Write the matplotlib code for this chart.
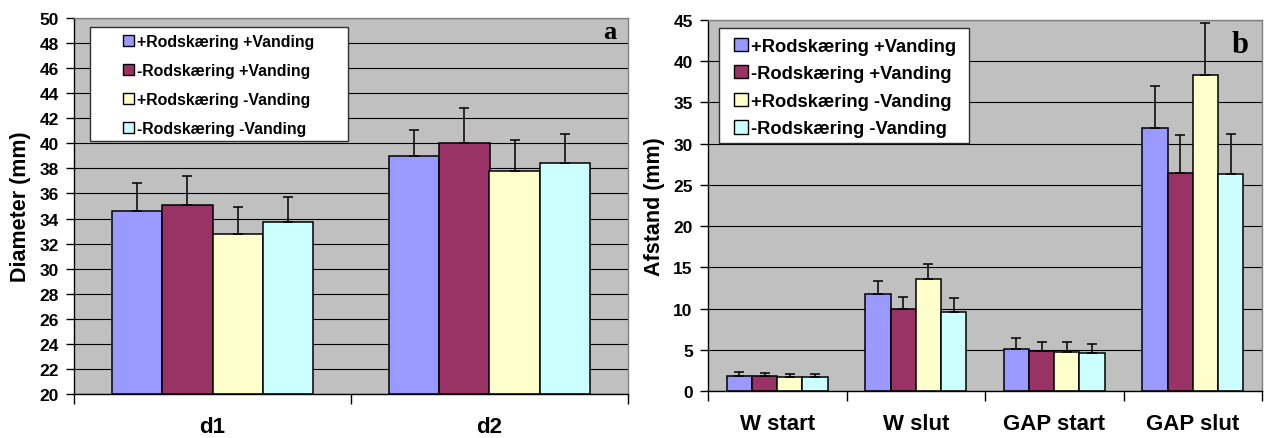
import matplotlib

matplotlib.use("Agg")

import matplotlib.pyplot as plt
import numpy as np
from matplotlib.patches import Rectangle

plt.rcParams["font.family"] = ["Liberation Sans", "DejaVu Sans"]
plt.rcParams["font.weight"] = "bold"

treatments = [
    "+Rodskæring +Vanding",
    "-Rodskæring +Vanding",
    "+Rodskæring -Vanding",
    "-Rodskæring -Vanding",
]
colors = ["#9999FF", "#993366", "#FFFFCC", "#CCFFFF"]

# panel a: stem diameter
cats_a = ["d1", "d2"]
means_a = [
    [34.6, 39.0],
    [35.1, 40.0],
    [32.8, 37.8],
    [33.7, 38.4],
]
tops_a = [
    [36.8, 41.1],
    [37.4, 42.85],
    [34.9, 40.3],
    [35.7, 40.75],
]

# panel b: distances
cats_b = ["W start", "W slut", "GAP start", "GAP slut"]
means_b = [
    [1.8, 11.8, 5.05, 31.9],
    [1.8, 10.0, 4.9, 26.5],
    [1.65, 13.6, 4.75, 38.3],
    [1.65, 9.6, 4.6, 26.3],
]
tops_b = [
    [2.35, 13.4, 6.4, 37.0],
    [2.2, 11.35, 6.0, 31.0],
    [2.1, 15.45, 6.0, 44.6],
    [2.1, 11.25, 5.7, 31.2],
]

W, H = 1264, 439
fig = plt.figure(figsize=(W / 100, H / 100), dpi=100)


def fx(px):
    return px / W


def fy(py):
    return (H - py) / H


def px_axes(left, top, right, bottom):
    return fig.add_axes([fx(left), fy(bottom), (right - left) / W, (bottom - top) / H])


def draw_panel(ax, cats, means, tops, ylim, ystep, ylabel, letter, letter_pos,
               letter_fs, legend_fs, legend_box, legend_anchor, legend_space,
               handle_len):
    n = len(cats)
    x = np.arange(n)
    bw = 1 / 5.5  # Excel gap width 150 %
    offsets = (np.arange(4) - 1.5) * bw
    ax.set_facecolor("#C0C0C0")
    ax.set_axisbelow(True)
    for i in range(4):
        m = np.array(means[i])
        t = np.array(tops[i])
        ax.bar(x + offsets[i], m - ylim[0], bw, bottom=ylim[0], color=colors[i],
               edgecolor="black", linewidth=1.1, label=treatments[i], zorder=2)
        ax.errorbar(x + offsets[i], m, yerr=[np.zeros(n), t - m], fmt="none",
                    ecolor="black", elinewidth=1.1, capsize=3.5,
                    capthick=1.1, zorder=3)
    ax.set_xlim(-0.5, n - 0.5)
    ax.set_ylim(*ylim)
    ax.set_yticks(np.arange(ylim[0], ylim[1] + 0.01, ystep))
    ax.grid(True, axis="y", color="black", linewidth=0.8)
    # category separators as major ticks, names as minor ticks at centres
    ax.set_xticks(np.arange(n + 1) - 0.5)
    ax.set_xticklabels([])
    ax.set_xticks(x, minor=True)
    ax.set_xticklabels(cats, minor=True, fontsize=16, fontweight="bold")
    ax.tick_params(axis="x", which="major", direction="out", length=7,
                   width=1, color="black")
    ax.tick_params(axis="x", which="minor", length=0, pad=16)
    ax.tick_params(axis="y", direction="out", length=6, width=1,
                   labelsize=12.5, pad=5)
    for lab in ax.get_yticklabels():
        lab.set_fontweight("bold")
    for s in ("top", "right"):
        ax.spines[s].set_color("#808080")
        ax.spines[s].set_linewidth(1)
    for s in ("left", "bottom"):
        ax.spines[s].set_color("black")
        ax.spines[s].set_linewidth(1)
    ax.set_ylabel(ylabel, fontsize=15.5, fontweight="bold", labelpad=6)

    # legend: white box drawn separately so the padding can match Excel's
    l, t, r, b = legend_box
    ax.add_patch(Rectangle((fx(l), fy(b)), (r - l) / W, (b - t) / H,
                           transform=fig.transFigure, facecolor="white",
                           edgecolor="#303030", linewidth=1.0, zorder=4.5,
                           clip_on=False))
    leg = ax.legend(loc="upper left",
                    bbox_to_anchor=(fx(legend_anchor[0]), fy(legend_anchor[1])),
                    bbox_transform=fig.transFigure, borderaxespad=0,
                    borderpad=0, frameon=False, fontsize=legend_fs,
                    handlelength=handle_len, handleheight=handle_len,
                    handletextpad=0.2, labelspacing=legend_space)
    for txt in leg.get_texts():
        txt.set_fontweight("bold")
    for p in leg.get_patches():
        p.set_linewidth(1.0)

    ax.text(fx(letter_pos[0]), fy(letter_pos[1]), letter,
            transform=fig.transFigure, ha="right", va="baseline",
            fontsize=letter_fs, fontweight="bold",
            family=["Liberation Serif", "DejaVu Serif"])


ax_a = px_axes(74, 19, 628, 395)
draw_panel(ax_a, cats_a, means_a, tops_a, (20, 50), 2, "Diameter (mm)",
           "a", (616, 39), 19, 11.4, (90, 28, 348, 142), (123, 35), 0.89, 0.7)

ax_b = px_axes(708, 21, 1262, 392)
draw_panel(ax_b, cats_b, means_b, tops_b, (0, 45), 5, "Afstand (mm)",
           "b", (1249, 53), 22, 13.2, (719, 29, 969, 144), (734, 38.5), 0.57, 0.75)

fig.savefig("out.png", dpi=100)
